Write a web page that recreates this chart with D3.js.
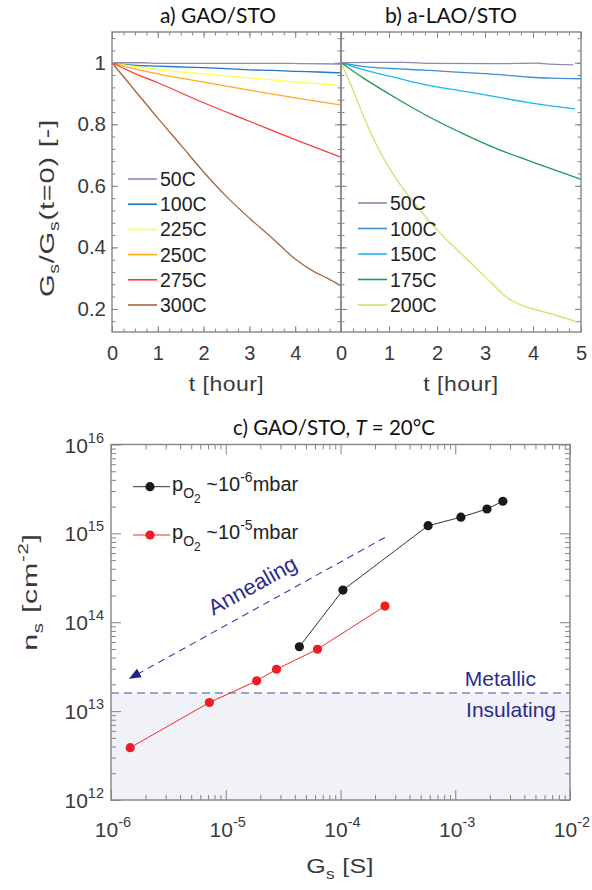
<!DOCTYPE html>
<html><head><meta charset="utf-8">
<script src="https://cdn.jsdelivr.net/npm/d3@7"></script>
<style>
body{margin:0;background:#fff;}
svg{display:block;}
</style></head><body>
<svg id="fig" width="592" height="890"></svg>
<script>
// ---- a) GAO/STO : G_s(t)/G_s(0) for each anneal temperature, pairs of [t (hour), ratio]
const gaoTemps = ["50C","100C","225C","250C","275C","300C"];
const gao50C  = [[0,1],[0.7,1],[1,0.998],[2,0.998],[3,0.998],[3.9,0.998],[4.2,0.997],[5,0.996]];
const gao100C = [[0,1],[0.46,0.992],[1,0.989],[1.4,0.987],[2,0.984],[2.5,0.981],[3,0.977],[3.5,0.975],[4,0.972],[4.5,0.970],[5,0.967]];
const gao225C = [[0,1],[0.5,0.988],[1,0.978],[2,0.964],[3,0.951],[4,0.938],[5,0.926]];
const gao250C = [[0,1],[0.5,0.980],[1,0.964],[2,0.937],[3,0.911],[4,0.886],[5,0.863]];
const gao275C = [[0,1],[0.5,0.965],[1,0.935],[2,0.870],[3,0.810],[4,0.750],[5,0.693]];
const gao300C = [[0,1],[0.5,0.91],[1,0.82],[1.5,0.733],[2,0.645],[2.5,0.565],[3,0.495],[3.5,0.43],[4,0.362],[4.4,0.322],[4.7,0.300],[5,0.275]];
const gaoCurves = [gao50C, gao100C, gao225C, gao250C, gao275C, gao300C];

// ---- b) a-LAO/STO
const laoTemps = ["50C","100C","150C","175C","200C"];
const lao50C  = [[0,1],[0.67,1.001],[1.3,1.001],[1.85,0.998],[3.24,0.997],[4.08,0.999],[4.22,0.997],[4.84,0.993]];
const lao100C = [[0,1],[0.6,0.986],[1.2,0.980],[1.85,0.975],[2.5,0.969],[3.24,0.962],[3.94,0.953],[4.4,0.950],[5,0.948]];
const lao150C = [[0,1],[0.46,0.978],[1.16,0.951],[1.85,0.926],[2.55,0.908],[3.24,0.889],[3.94,0.870],[4.875,0.850]];
const lao175C = [[0,1],[0.46,0.951],[1.16,0.884],[1.85,0.823],[2.55,0.769],[3.24,0.721],[3.94,0.680],[5,0.621]];
const lao200C = [[0,1],[0.2,0.93],[0.5,0.815],[0.8,0.715],[1.0,0.66],[1.25,0.60],[1.5,0.55],[2.0,0.457],[2.5,0.38],[3.0,0.305],[3.5,0.232],[3.8,0.21],[4.0,0.20],[4.5,0.178],[4.94,0.156]];
const laoCurves = [lao50C, lao100C, lao150C, lao175C, lao200C];

const hourTicks = [0,1,2,3,4,5];
const ratioTicks = [0.2,0.4,0.6,0.8,1];

// ---- c) GAO/STO at 20 °C : sheet carrier density vs sheet conductance
const pO2Labels = ["-6","-5"];
const gsLowP  = [4.38e-5, 1.05e-4, 5.8e-4, 1.12e-3, 1.89e-3, 2.6e-3];
const nsLowP  = [5.3e13, 2.3e14, 1.22e15, 1.52e15, 1.88e15, 2.3e15];
const gsHighP = [1.47e-6, 7.2e-6, 1.86e-5, 2.77e-5, 6.3e-5, 2.44e-4];
const nsHighP = [3.88e12, 1.25e13, 2.19e13, 2.96e13, 4.97e13, 1.52e14];
const metallicLimit = 1.6e13;
const annealFrom = [2.44e-4, 9.0e14];
const annealTo   = [1.46e-6, 2.34e13];
const gsDecades = [1e-6,1e-5,1e-4,1e-3,1e-2];
const nsDecades = [1e12,1e13,1e14,1e15,1e16];

// ---- styles
const gaoColors = ["#8c8cb6","#1f78c4","#ffff4a","#ffab1e","#ff3b3b","#a5663c"];
const laoColors = ["#8c88b4","#3d8ed2","#1db6f2","#1f9a55","#d2e066"];
const axisGray = "#858585";
const textGray = "#3a3a3a";
const navy = "#2b2b8e";
const numFont = "'Liberation Sans', Arial, sans-serif";
const titleFont = "Lato, 'Open Sans', sans-serif";

const svg = d3.select("#fig");

// text widened along its own baseline (the figure's lettering is broad)
function wideText(parent, x, y, rot, sx, size, anchor, fill, spacing) {
  return parent.append("text")
    .attr("transform", `translate(${x},${y}) rotate(${rot}) scale(${sx},1)`)
    .attr("text-anchor", anchor).attr("font-family", numFont)
    .attr("letter-spacing", spacing || 0)
    .attr("font-size", size).attr("fill", fill);
}

// ===================== top panels =====================
const topY0 = 32, topY1 = 332;
const yRatio = d3.scaleLinear().domain([0.125, 1.1]).range([topY1, topY0]);
const minorRatio = d3.range(0.16, 1.1, 0.04).map(v => +v.toFixed(2));
const minorHour = d3.range(0, 5.01, 0.25);

function panel(xLeft, xRight, curves, colors, labels, legendTop, legendStep, legendX, hourLabels) {
  const x = d3.scaleLinear().domain([0, 5]).range([xLeft, xRight]);
  const g = svg.append("g");

  const line = d3.line().x(d => x(d[0])).y(d => yRatio(d[1])).curve(d3.curveMonotoneX);
  g.append("g").selectAll("path").data(curves).join("path")
    .attr("d", line).attr("fill", "none")
    .attr("stroke", (d, i) => colors[i]).attr("stroke-width", 1.3);

  // inward ticks on all four sides
  const tickAxes = [
    [d3.axisBottom(x), `translate(0,${topY1})`, minorHour, -3.5],
    [d3.axisBottom(x), `translate(0,${topY1})`, hourTicks, -6],
    [d3.axisTop(x), `translate(0,${topY0})`, minorHour, -3.5],
    [d3.axisTop(x), `translate(0,${topY0})`, hourTicks, -6],
    [d3.axisLeft(yRatio), `translate(${xLeft},0)`, minorRatio, -3.5],
    [d3.axisLeft(yRatio), `translate(${xLeft},0)`, ratioTicks, -6],
    [d3.axisRight(yRatio), `translate(${xRight},0)`, minorRatio, -3.5],
    [d3.axisRight(yRatio), `translate(${xRight},0)`, ratioTicks, -6]
  ];
  tickAxes.forEach(([ax, tr, vals, size]) => {
    const a = g.append("g").attr("transform", tr)
      .call(ax.tickValues(vals).tickSizeInner(size).tickSizeOuter(0).tickFormat(""));
    a.select(".domain").remove();
    a.selectAll("line").attr("stroke", axisGray).attr("stroke-width", 1);
  });
  g.append("rect").attr("x", xLeft).attr("y", topY0)
    .attr("width", xRight - xLeft).attr("height", topY1 - topY0)
    .attr("fill", "none").attr("stroke", axisGray).attr("stroke-width", 1.4);

  // hour labels
  const xl = g.append("g").attr("transform", `translate(0,${topY1})`)
    .call(d3.axisBottom(x).tickValues(hourLabels).tickSize(0).tickPadding(14).tickFormat(d3.format("d")));
  xl.select(".domain").remove();
  xl.selectAll("text").attr("font-family", numFont).attr("font-size", 20).attr("fill", textGray);

  // legend
  const lg = g.append("g");
  labels.forEach((lab, i) => {
    const yy = legendTop + i * legendStep;
    lg.append("line").attr("x1", legendX).attr("x2", legendX + 29)
      .attr("y1", yy).attr("y2", yy).attr("stroke", colors[i]).attr("stroke-width", 1.6);
    lg.append("text").attr("x", legendX + 32).attr("y", yy + 7)
      .attr("font-family", numFont).attr("font-size", 19.5).attr("fill", "#222").text(lab);
  });

  // axis title under the panel
  wideText(g, (xLeft + xRight) / 2, 391, 0, 1.15, 20, "middle", textGray, 0.4).text("t [hour]");
  return x;
}

panel(112, 341, gaoCurves, gaoColors, gaoTemps, 179, 25.2, 128, [0,1,2,3,4]);
panel(341, 581, laoCurves, laoColors, laoTemps, 203, 25.5, 358, hourTicks);

// ratio labels
const yl = svg.append("g").attr("transform", "translate(112,0)")
  .call(d3.axisLeft(yRatio).tickValues(ratioTicks).tickSize(0).tickPadding(6)
    .tickFormat(d => d === 1 ? "1" : d3.format(".1f")(d)));
yl.select(".domain").remove();
yl.selectAll("text").attr("font-family", numFont).attr("font-size", 20.5).attr("fill", textGray);

// panel titles
svg.append("text").attr("x", 218).attr("y", 23).attr("text-anchor", "middle")
  .attr("font-family", titleFont).attr("font-size", 21)
  .attr("textLength", 116).attr("lengthAdjust", "spacingAndGlyphs")
  .attr("fill", "#111").text("a) GAO/STO");
svg.append("text").attr("x", 451).attr("y", 23).attr("text-anchor", "middle")
  .attr("font-family", titleFont).attr("font-size", 21)
  .attr("textLength", 132).attr("lengthAdjust", "spacingAndGlyphs")
  .attr("fill", "#111").text("b) a-LAO/STO");

// ratio axis title
{
  const t = wideText(svg, 54, 208, -90, 1.38, 21, "middle", textGray, 0.6);
  t.append("tspan").text("G");
  t.append("tspan").attr("dy", 5).attr("font-size", 14).text("s");
  t.append("tspan").attr("dy", -5).text("/G");
  t.append("tspan").attr("dy", 5).attr("font-size", 14).text("s");
  t.append("tspan").attr("dy", -5).text("(t=0) [-]");
}

// ===================== bottom panel =====================
const bx0 = 111, bx1 = 570, by0 = 444.5, by1 = 800;
const xGs = d3.scaleLog().domain([1e-6, 1e-2]).range([bx0, bx1]);
const yNs = d3.scaleLog().domain([1e12, 1e16]).range([by1, by0]);

const bg = svg.append("g");
// insulating region
bg.append("rect").attr("x", bx0).attr("width", bx1 - bx0)
  .attr("y", yNs(metallicLimit)).attr("height", by1 - yNs(metallicLimit))
  .attr("fill", "#f1f1f8");
bg.append("line").attr("x1", bx0).attr("x2", bx1)
  .attr("y1", yNs(metallicLimit)).attr("y2", yNs(metallicLimit))
  .attr("stroke", "#4646a8").attr("stroke-width", 1).attr("stroke-dasharray", "8,5");

function minorLog(decades) {
  const out = [];
  for (let i = 0; i < decades.length - 1; i++)
    for (let k = 2; k <= 9; k++) out.push(decades[i] * k);
  return out;
}
const gsMinor = minorLog(gsDecades), nsMinor = minorLog(nsDecades);
[
  [d3.axisBottom(xGs), `translate(0,${by1})`, gsMinor, -5],
  [d3.axisBottom(xGs), `translate(0,${by1})`, gsDecades, -10],
  [d3.axisTop(xGs), `translate(0,${by0})`, gsMinor, -5],
  [d3.axisTop(xGs), `translate(0,${by0})`, gsDecades, -10],
  [d3.axisLeft(yNs), `translate(${bx0},0)`, nsMinor, -5],
  [d3.axisLeft(yNs), `translate(${bx0},0)`, nsDecades, -10],
  [d3.axisRight(yNs), `translate(${bx1},0)`, nsMinor, -5],
  [d3.axisRight(yNs), `translate(${bx1},0)`, nsDecades, -10]
].forEach(([ax, tr, vals, size]) => {
  const a = bg.append("g").attr("transform", tr)
    .call(ax.tickValues(vals).tickSizeInner(size).tickSizeOuter(0).tickFormat(""));
  a.select(".domain").remove();
  a.selectAll("line").attr("stroke", axisGray).attr("stroke-width", 1);
});
bg.append("rect").attr("x", bx0).attr("y", by0).attr("width", bx1 - bx0).attr("height", by1 - by0)
  .attr("fill", "none").attr("stroke", axisGray).attr("stroke-width", 1.4);

// decade labels
gsDecades.forEach(v => {
  const t = bg.append("text").attr("x", xGs(v) + 2).attr("y", 837).attr("text-anchor", "middle")
    .attr("font-family", numFont).attr("font-size", 21).attr("fill", textGray);
  t.append("tspan").text("10");
  t.append("tspan").attr("dy", -10).attr("font-size", 14.5).text(String(Math.round(Math.log10(v))));
});
nsDecades.forEach(v => {
  const t = bg.append("text").attr("x", 104).attr("y", yNs(v) + 8).attr("text-anchor", "end")
    .attr("font-family", numFont).attr("font-size", 21).attr("fill", textGray);
  t.append("tspan").text("10");
  t.append("tspan").attr("dy", -10).attr("font-size", 14.5).text(String(Math.round(Math.log10(v))));
});

// axis titles
{
  const t = wideText(bg, 340, 873, 0, 1.22, 20.5, "middle", textGray, 0.3);
  t.append("tspan").text("G");
  t.append("tspan").attr("dy", 6).attr("font-size", 14).text("s");
  t.append("tspan").attr("dy", -6).text(" [S]");
  const u = wideText(bg, 37, 592, -90, 1.45, 21, "middle", textGray, 0.5);
  u.append("tspan").text("n");
  u.append("tspan").attr("dy", 6).attr("font-size", 14).text("s");
  u.append("tspan").attr("dy", -6).text(" [cm");
  u.append("tspan").attr("dy", -9).attr("font-size", 14).text("-2");
  u.append("tspan").attr("dy", 9).text("]");
}

// title
{
  const t = svg.append("text").attr("x", 334).attr("y", 435).attr("text-anchor", "middle")
    .attr("font-family", titleFont).attr("font-size", 20.5).attr("fill", "#111");
  t.append("tspan").text("c) GAO/STO, ");
  t.append("tspan").attr("font-style", "italic").text("T");
  t.append("tspan").text(" = 20°C");
}

// annealing arrow
svg.append("defs").append("marker").attr("id", "ah")
  .attr("viewBox", "0 0 12 10").attr("refX", 11).attr("refY", 5)
  .attr("markerWidth", 12).attr("markerHeight", 10).attr("markerUnits", "userSpaceOnUse")
  .attr("orient", "auto")
  .append("path").attr("d", "M0,0 L12,5 L0,10 Z").attr("fill", "#22228a");
bg.append("line")
  .attr("x1", xGs(annealFrom[0])).attr("y1", yNs(annealFrom[1]))
  .attr("x2", xGs(annealTo[0])).attr("y2", yNs(annealTo[1]))
  .attr("stroke", "#3c3cac").attr("stroke-width", 1.1).attr("stroke-dasharray", "7,5")
  .attr("marker-end", "url(#ah)");
{
  const ang = Math.atan2(yNs(annealFrom[1]) - yNs(annealTo[1]), xGs(annealFrom[0]) - xGs(annealTo[0])) * 180 / Math.PI;
  bg.append("text").attr("transform", `translate(256,592) rotate(${ang})`).attr("text-anchor", "middle")
    .attr("font-family", numFont).attr("font-size", 22).attr("fill", navy).text("Annealing");
}
bg.append("text").attr("x", 536).attr("y", 686).attr("text-anchor", "end")
  .attr("font-family", numFont).attr("font-size", 21).attr("fill", navy).text("Metallic");
bg.append("text").attr("x", 556).attr("y", 717).attr("text-anchor", "end")
  .attr("font-family", numFont).attr("font-size", 21).attr("fill", navy).text("Insulating");

// data series
const seriesList = [
  {gs: gsLowP, ns: nsLowP, color: "#1a1a1a", line: "#333"},
  {gs: gsHighP, ns: nsHighP, color: "#ee1c25", line: "#ee2a2a"}
];
const nsLine = d3.line().x(d => xGs(d[0])).y(d => yNs(d[1]));
seriesList.forEach(s => {
  const pts = s.gs.map((v, i) => [v, s.ns[i]]);
  bg.append("path").attr("d", nsLine(pts)).attr("fill", "none").attr("stroke", s.line).attr("stroke-width", 1);
  bg.append("g").selectAll("circle").data(pts).join("circle")
    .attr("cx", d => xGs(d[0])).attr("cy", d => yNs(d[1])).attr("r", 4.6).attr("fill", s.color);
});

// legend
[[486.7, 0], [535, 1]].forEach(([yy, i]) => {
  const s = seriesList[i];
  bg.append("line").attr("x1", 133).attr("x2", 170).attr("y1", yy).attr("y2", yy)
    .attr("stroke", s.line).attr("stroke-width", 1);
  bg.append("circle").attr("cx", 150).attr("cy", yy).attr("r", 4.6).attr("fill", s.color);
  const t = bg.append("text").attr("x", 172).attr("y", yy + 4)
    .attr("font-family", numFont).attr("font-size", 20).attr("fill", "#222");
  t.append("tspan").text("p");
  t.append("tspan").attr("dy", 7).attr("font-size", 14).text("O");
  t.append("tspan").attr("dy", 5).attr("font-size", 12).text("2");
  t.append("tspan").attr("dy", -12).text(" ~10");
  t.append("tspan").attr("dy", -9).attr("font-size", 14).text(pO2Labels[i]);
  t.append("tspan").attr("dy", 9).text("mbar");
});
</script>
</body></html>
